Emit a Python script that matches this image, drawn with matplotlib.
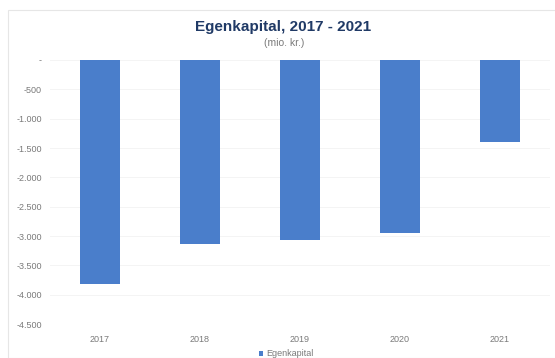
import matplotlib
matplotlib.use("Agg")
import matplotlib.pyplot as plt
from matplotlib.patches import Rectangle
from matplotlib.ticker import FuncFormatter, MultipleLocator

plt.rcParams["font.family"] = ["Liberation Sans", "DejaVu Sans"]

# Equity per year (million DKK)
years = ["2017", "2018", "2019", "2020", "2021"]
egenkapital = [-3820, -3135, -3065, -2945, -1405]
series_name = "Egenkapital"

W, H = 555, 358
fig = plt.figure(figsize=(W / 100, H / 100), dpi=100)
fig.patch.set_facecolor("white")

# light chart-area frame
fig.patches.append(Rectangle((8 / W, 0), 1, 1 - 10 / H, transform=fig.transFigure,
                             fill=False, edgecolor="#e6e6e6", linewidth=0.8))

ax = fig.add_axes([50 / W, 34 / H, 500 / W, 264 / H])
bar_color = "#4a7ecb"
x = range(len(years))
ax.bar(x, egenkapital, width=0.4, color=bar_color, label=series_name, zorder=3)

ax.set_xlim(-0.5, len(years) - 0.5)
ax.set_ylim(-4500, 0)
ax.yaxis.set_major_locator(MultipleLocator(500))


def dk_fmt(v, pos):
    if abs(v) < 1e-9:
        return "-"
    s = f"{abs(int(round(v))):,}".replace(",", ".")
    return ("-" if v < 0 else "") + s


ax.yaxis.set_major_formatter(FuncFormatter(dk_fmt))
ax.set_xticks(list(x))
ax.set_xticklabels(years)
ax.tick_params(axis="both", length=0, labelsize=6.5, colors="#7a7a7a")
ax.tick_params(axis="y", pad=6)
ax.tick_params(axis="x", pad=8)
ax.grid(axis="y", color="#f2f2f2", linewidth=0.6, zorder=0)
for sp in ax.spines.values():
    sp.set_visible(False)

fig.text(283 / W, 1 - 27.5 / H, "Egenkapital, 2017 - 2021", ha="center", va="center",
         fontsize=11, fontweight="bold", color="#203a66")
fig.text(284 / W, 1 - 43 / H, "(mio. kr.)", ha="center", va="center",
         fontsize=7.5, color="#7a7a7a")

leg = fig.legend(loc="center", bbox_to_anchor=(286 / W, 1 - 354 / H), frameon=False,
                 fontsize=6.5, handlelength=0.5, handleheight=0.5, handletextpad=0.3,
                 borderpad=0)
for t in leg.get_texts():
    t.set_color("#7a7a7a")

fig.savefig("out.png", dpi=100)
